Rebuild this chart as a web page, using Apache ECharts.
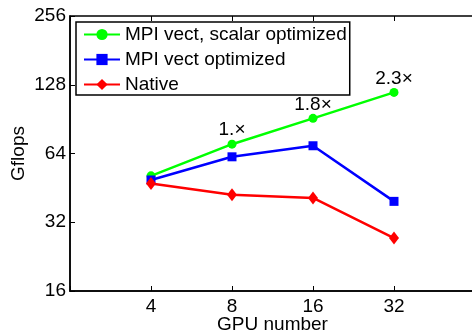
<!DOCTYPE html>
<html>
<head>
<meta charset="utf-8">
<script src="https://cdn.jsdelivr.net/npm/echarts@6/dist/echarts.min.js"></script>
<style>
  html, body { margin: 0; padding: 0; background: #fff; }
  #main { width: 472px; height: 335px; }
</style>
</head>
<body>
<div id="main"></div>
<script>
// GPU counts and Gflops
var gpus = [4, 8, 16, 32];
var scalarOpt = [51.1, 70.3, 91.2, 118.5];
var vectOpt = [49.0, 61.9, 69.2, 39.5];
var native = [47.3, 42.2, 40.9, 27.3];
var speedups = ['', '1.×', '1.8×', '2.3×'];

var FONT = '"Liberation Sans", Arial, sans-serif';

function pairs(vals) {
    return gpus.map(function (g, i) { return [g, vals[i]]; });
}

var chart = echarts.init(document.getElementById('main'));
chart.setOption({
    animation: false,
    textStyle: { fontFamily: FONT, color: '#000' },
    grid: {
        left: 70, right: -3, top: 16, bottom: 44,
        outerBoundsMode: 'none', containLabel: false,
        show: true, borderColor: '#000', borderWidth: 1.5,
        backgroundColor: 'transparent'
    },
    legend: {
        left: 76, top: 22,
        orient: 'vertical',
        backgroundColor: '#fff',
        borderColor: '#000', borderWidth: 1.5,
        padding: [3, 3, 1, 7],
        itemWidth: 36, itemHeight: 14, itemGap: 6,
        textStyle: { fontFamily: FONT, fontSize: 19, color: '#000' },
        data: ['MPI vect, scalar optimized', 'MPI vect optimized', 'Native']
    },
    xAxis: [{
        type: 'log', logBase: 2, min: 2, max: 64,
        name: 'GPU number', nameLocation: 'middle', nameGap: 24,
        nameMoveOverlap: false,
        nameTextStyle: { fontSize: 19, color: '#000', fontFamily: FONT },
        axisLine: { lineStyle: { color: '#000', width: 1.5 } },
        axisTick: { inside: true, length: 5, lineStyle: { color: '#000' } },
        axisLabel: {
            fontSize: 19, color: '#000', margin: 6,
            formatter: function (v) { return (v === 2 || v === 64) ? '' : v; }
        },
        splitLine: { show: false }
    }, {
        type: 'log', logBase: 2, min: 2, max: 64, position: 'top',
        axisLine: { show: false },
        axisTick: { inside: true, length: 5, lineStyle: { color: '#000' } },
        axisLabel: { show: false },
        splitLine: { show: false }
    }],
    yAxis: {
        type: 'log', logBase: 2, min: 16, max: 256,
        name: 'Gflops', nameLocation: 'middle', nameGap: 42, nameRotate: 90,
        nameMoveOverlap: false,
        nameTextStyle: { fontSize: 19, color: '#000', fontFamily: FONT },
        axisLine: { show: true, lineStyle: { color: '#000', width: 1.5 } },
        axisTick: { show: true, inside: true, length: 5, lineStyle: { color: '#000' } },
        axisLabel: { fontSize: 19, color: '#000', margin: 4 },
        splitLine: { show: false }
    },
    series: [{
        name: 'MPI vect, scalar optimized',
        type: 'line',
        data: pairs(scalarOpt),
        color: '#00ff00',
        lineStyle: { width: 2.5 },
        symbol: 'circle', symbolSize: 9,
        label: {
            show: true, position: 'top', distance: 0, offset: [-7, 0],
            fontSize: 19, color: '#000', fontFamily: FONT,
            formatter: function (p) { return speedups[p.dataIndex]; }
        },
        labelLayout: { hideOverlap: false }
    }, {
        name: 'MPI vect optimized',
        type: 'line',
        data: pairs(vectOpt),
        color: '#0000ff',
        lineStyle: { width: 2.5 },
        symbol: 'rect', symbolSize: 9
    }, {
        name: 'Native',
        type: 'line',
        data: pairs(native),
        color: '#ff0000',
        lineStyle: { width: 2.5 },
        symbol: 'diamond', symbolSize: [10, 13]
    }]
});
</script>
</body>
</html>
